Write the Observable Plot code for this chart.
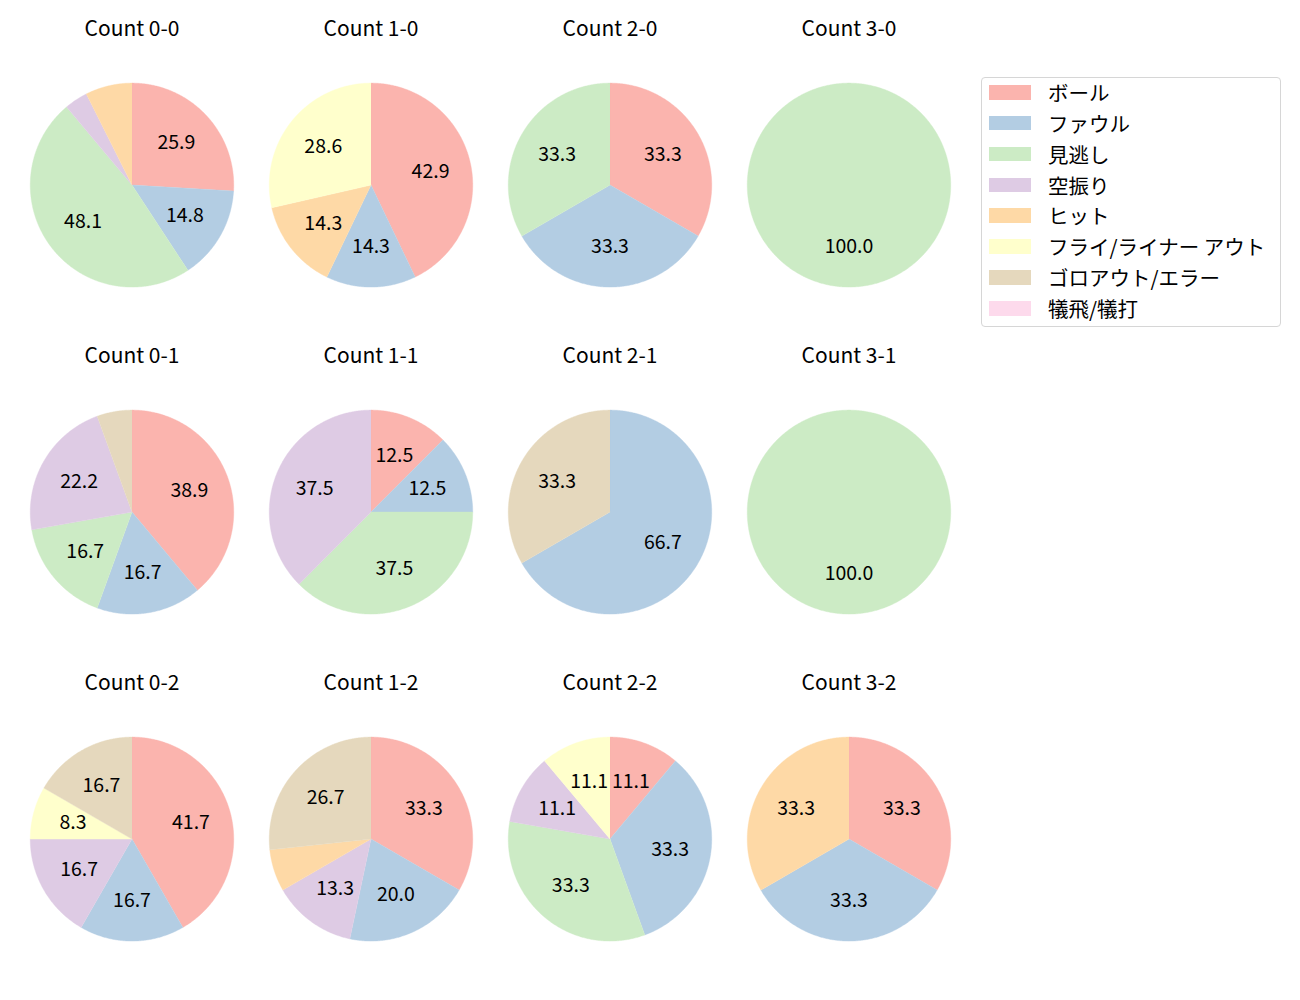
<!DOCTYPE html>
<html>
<head>
<meta charset="utf-8">
<script src="https://cdn.jsdelivr.net/npm/d3@7"></script>
<script src="https://cdn.jsdelivr.net/npm/@observablehq/plot@0.6"></script>
<style>
  body { margin: 0; background: #fff; font-family: "Noto Sans CJK JP", "Noto Sans", sans-serif; }
  #wrap { position: relative; width: 1300px; height: 1000px; }
  #chart { position: absolute; left: 0; top: 0; }
  #legend { position: absolute; left: 981px; top: 77px; width: 300px; height: 250px; box-sizing: border-box;
            border: 1px solid #d6d6d6; border-radius: 4px; background: #fff; }
  .item { position: absolute; left: 7px; height: 15px; }
  .sw { position: absolute; left: 0; top: 0; width: 42px; height: 14.5px; }
  .lab { position: absolute; left: 59px; top: -6px; font-size: 20.5px; line-height: 26px; white-space: nowrap; color: #000; }
</style>
</head>
<body>
<div id="wrap"><div id="chart"></div><div id="legend"></div></div>
<script>
// Categories (legend order) and colours
const categories = ["ボール", "ファウル", "見逃し", "空振り", "ヒット", "フライ/ライナー アウト", "ゴロアウト/エラー", "犠飛/犠打"];
const colors = ["#fbb4ae", "#b3cde3", "#ccebc5", "#decbe4", "#fed9a6", "#ffffcc", "#e5d8bd", "#fddaec"];

// Ball counts (columns) and strike counts (rows)
const balls = [0, 1, 2, 3];
const strikes = [0, 1, 2];

// Pitch outcome counts per ball-strike count, in category order
const count00 = [7, 4, 13, 1, 2, 0, 0, 0];
const count10 = [3, 1, 0, 0, 1, 2, 0, 0];
const count20 = [1, 1, 1, 0, 0, 0, 0, 0];
const count30 = [0, 0, 1, 0, 0, 0, 0, 0];
const count01 = [7, 3, 3, 4, 0, 0, 1, 0];
const count11 = [1, 1, 3, 3, 0, 0, 0, 0];
const count21 = [0, 2, 0, 0, 0, 0, 1, 0];
const count31 = [0, 0, 1, 0, 0, 0, 0, 0];
const count02 = [5, 2, 0, 2, 0, 1, 2, 0];
const count12 = [5, 3, 0, 2, 1, 0, 4, 0];
const count22 = [1, 3, 3, 1, 0, 1, 0, 0];
const count32 = [1, 1, 0, 0, 1, 0, 0, 0];

const counts = {
  "0-0": count00, "1-0": count10, "2-0": count20, "3-0": count30,
  "0-1": count01, "1-1": count11, "2-1": count21, "3-1": count31,
  "0-2": count02, "1-2": count12, "2-2": count22, "3-2": count32
};

const labelThreshold = 7.5; // percent; smaller wedges are not labelled

// Build wedge outlines and labels from the data
const wedgePts = [];
const labels = [];
const titles = [];
const pie = d3.pie().sort(null).value(d => d.v);
for (const s of strikes) {
  for (const b of balls) {
    const key = `${b}-${s}`;
    titles.push({b, s, t: `Count ${key}`});
    const vals = counts[key];
    const total = d3.sum(vals);
    const arcs = pie(vals.map((v, i) => ({v, c: categories[i]})));
    arcs.forEach((a, i) => {
      if (a.data.v <= 0) return;
      const id = `${key}-${i}`;
      const span = a.endAngle - a.startAngle;
      const n = Math.max(2, Math.ceil(span / (Math.PI / 360)));
      const full = span >= 2 * Math.PI - 1e-9;
      if (!full) wedgePts.push({b, s, id, c: a.data.c, x: 0, y: 0});
      for (let k = 0; k <= n; k++) {
        const ang = a.startAngle + span * k / n;
        wedgePts.push({b, s, id, c: a.data.c, x: Math.sin(ang), y: Math.cos(ang)});
      }
      const pct = 100 * a.data.v / total;
      if (pct > labelThreshold) {
        const mid = (a.startAngle + a.endAngle) / 2;
        labels.push({b, s, x: 0.6 * Math.sin(mid), y: 0.6 * Math.cos(mid), t: pct.toFixed(1)});
      }
    });
  }
}

const R = 102;              // pie radius in px
const cellW = 239.6, cellH = 327, cy = 184.6;

const chart = Plot.plot({
  width: 10.5 + 4 * cellW,
  height: 1000,
  marginLeft: 10.5, marginRight: 0, marginTop: 0, marginBottom: 1000 - 3 * cellH,
  style: {fontFamily: '"Noto Sans CJK JP", "Noto Sans", sans-serif', background: "transparent"},
  fx: {domain: balls, padding: 0, axis: null},
  fy: {domain: strikes, padding: 0, axis: null},
  x: {domain: [-cellW / 2 / R, cellW / 2 / R], axis: null},
  y: {domain: [-(cellH - cy) / R, cy / R], axis: null},
  color: {domain: categories, range: colors},
  marks: [
    Plot.line(wedgePts, {fx: "b", fy: "s", x: "x", y: "y", z: "id", fill: "c", stroke: "c", strokeWidth: 0.4, curve: "linear"}),
    Plot.text(labels, {fx: "b", fy: "s", x: "x", y: "y", text: "t", fontSize: 19.5, fill: "#000"}),
    Plot.text(titles, {fx: "b", fy: "s", text: "t", frameAnchor: "top", dy: 29, lineAnchor: "middle", fontSize: 21, fill: "#000"})
  ]
});
document.getElementById("chart").appendChild(chart);

// Legend
const leg = document.getElementById("legend");
categories.forEach((c, i) => {
  const it = document.createElement("div");
  it.className = "item";
  it.style.top = (7 + i * 30.86) + "px";
  it.innerHTML = `<div class="sw" style="background:${colors[i]}"></div><div class="lab">${c}</div>`;
  leg.appendChild(it);
});
</script>
</body>
</html>
